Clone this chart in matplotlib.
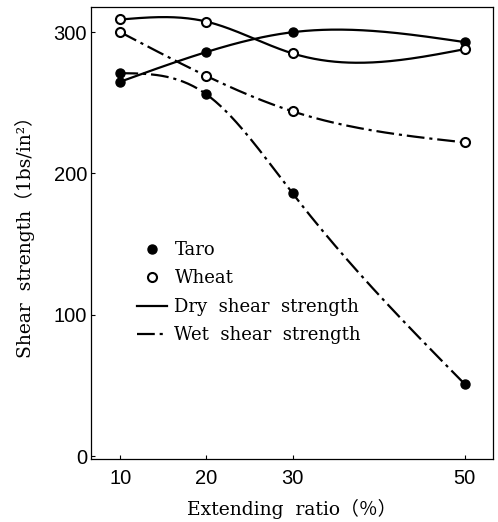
import numpy as np
import matplotlib
matplotlib.use("Agg")
import matplotlib.pyplot as plt
from matplotlib.lines import Line2D

# ---- data ----
ratio = [10, 20, 30, 50]
taro_dry = [265, 286, 300, 293]
taro_wet = [271, 256, 186, 51]
wheat_dry = [309, 307.5, 285, 288]
wheat_wet = [300, 269, 244, 222]
xticks = [10, 20, 30, 50]
yticks = [0, 100, 200, 300]

SERIF = ["DejaVu Serif", "Noto Sans CJK JP"]
plt.rcParams["font.family"] = SERIF


def natural_spline(x, y, n=200):
    x = np.asarray(x, float)
    y = np.asarray(y, float)
    k = len(x)
    h = np.diff(x)
    A = np.zeros((k, k))
    b = np.zeros(k)
    A[0, 0] = 1
    A[-1, -1] = 1
    for i in range(1, k - 1):
        A[i, i - 1] = h[i - 1]
        A[i, i] = 2 * (h[i - 1] + h[i])
        A[i, i + 1] = h[i]
        b[i] = 3 * ((y[i + 1] - y[i]) / h[i] - (y[i] - y[i - 1]) / h[i - 1])
    c = np.linalg.solve(A, b)
    xs = np.linspace(x[0], x[-1], n)
    ys = np.empty_like(xs)
    for j, xv in enumerate(xs):
        i = min(np.searchsorted(x, xv, side="right") - 1, k - 2)
        i = max(i, 0)
        bi = (y[i + 1] - y[i]) / h[i] - h[i] * (2 * c[i] + c[i + 1]) / 3
        di = (c[i + 1] - c[i]) / (3 * h[i])
        t = xv - x[i]
        ys[j] = y[i] + bi * t + c[i] * t ** 2 + di * t ** 3
    return xs, ys


fig = plt.figure(figsize=(4.98, 5.22), dpi=100)
ax = fig.add_axes([0.183, 0.121, 0.807, 0.866])

dashdot = (0, (8, 2.2, 1.4, 2.2))
lw = 1.6

for vals, ls in [(taro_dry, "-"), (wheat_dry, "-"), (taro_wet, dashdot), (wheat_wet, dashdot)]:
    xs, ys = natural_spline(ratio, vals)
    ax.plot(xs, ys, color="black", lw=lw, linestyle=ls, zorder=2)

ms = 6.5
for vals in [taro_dry, taro_wet]:
    ax.plot(ratio, vals, "o", ms=ms, mfc="black", mec="black", zorder=3)
for vals in [wheat_dry, wheat_wet]:
    ax.plot(ratio, vals, "o", ms=ms, mfc="white", mec="black", mew=1.5, zorder=3)

ax.set_xlim(6.6, 53.3)
ax.set_ylim(-2, 318)
ax.set_xticks(xticks)
ax.set_yticks(yticks)
ax.tick_params(direction="in", length=3, width=0.8, labelsize=14.5)
ax.tick_params(axis="y", pad=3)
ax.tick_params(axis="x", pad=7)
for lab in ax.get_xticklabels() + ax.get_yticklabels():
    lab.set_family(["Liberation Sans"])
for s in ax.spines.values():
    s.set_linewidth(0.9)

ax.set_xlabel("Extending  ratio（％）", fontsize=13.5, labelpad=8)
ax.set_ylabel("Shear  strength（1bs/in²）", fontsize=13.5, labelpad=13)

handles = [
    Line2D([], [], marker="o", ls="none", ms=ms, mfc="black", mec="black"),
    Line2D([], [], marker="o", ls="none", ms=ms, mfc="white", mec="black", mew=1.5),
    Line2D([], [], color="black", lw=lw, ls="-"),
    Line2D([], [], color="black", lw=lw, ls=dashdot),
]
labels = ["Taro", "Wheat", "Dry  shear  strength", "Wet  shear  strength"]
ax.legend(handles, labels, loc="upper left", bbox_to_anchor=(0.095, 0.498),
          frameon=False, fontsize=13, handlelength=1.7, handletextpad=0.4,
          labelspacing=0.58, borderaxespad=0)

fig.savefig("out.png", dpi=100)
